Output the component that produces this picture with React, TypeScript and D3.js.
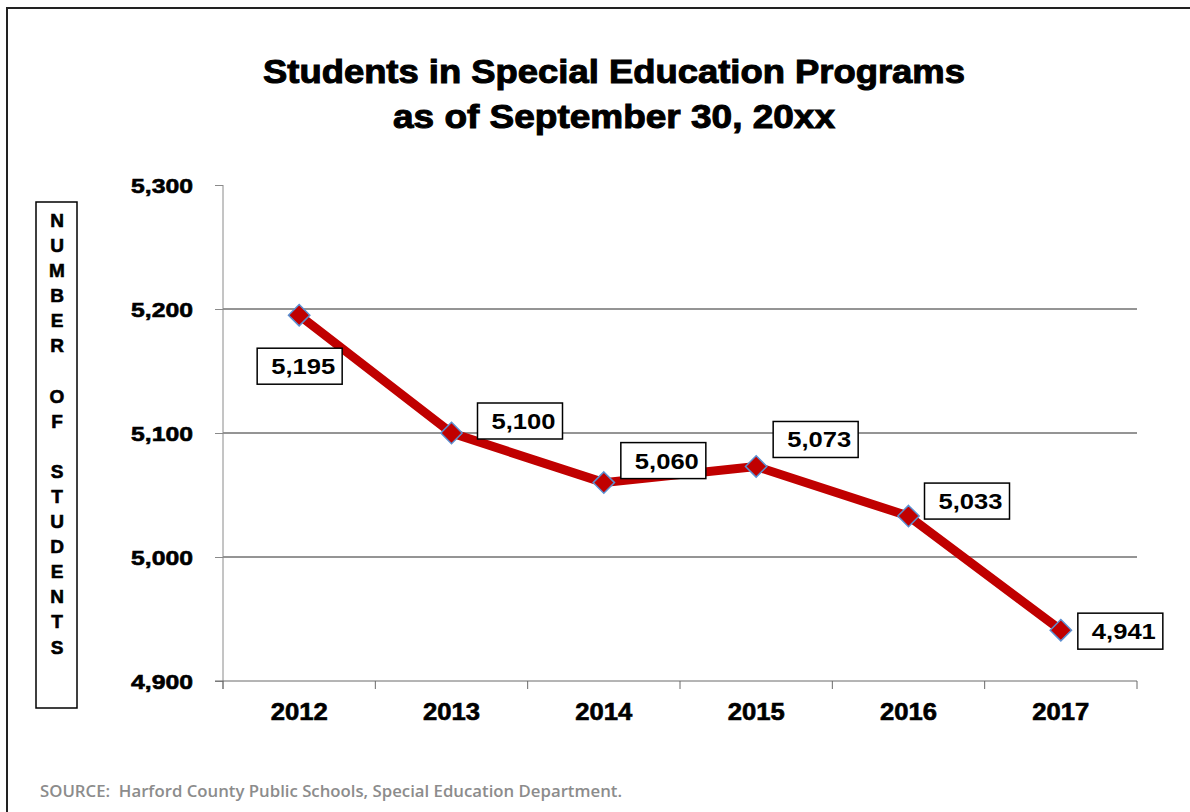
import * as d3 from 'd3';
import React, { useRef, useEffect } from 'react';

const years = ['2012', '2013', '2014', '2015', '2016', '2017'];
const students = [5195, 5100, 5060, 5073, 5033, 4941];
const yTicks = [4900, 5000, 5100, 5200, 5300];
// where each value box sits relative to its point: [dx of box left, dy of box centre]
const labelOffsets: [number, number][] = [
    [-42, 51],
    [26, -12],
    [17, -22],
    [17, -27],
    [16, -15],
    [17, 1],
];
const titleLines = ['Students in Special Education Programs', 'as of September 30, 20xx'];
const yLabel = 'NUMBER OF STUDENTS';
const source = 'SOURCE:  Harford County Public Schools, Special Education Department.';

const W = 1190;
const H = 812;

export default function App() {
    const ref = useRef<SVGSVGElement | null>(null);

    useEffect(() => {
        const svg = d3.select(ref.current);
        svg.selectAll('*').remove();

        const left = 223;
        const right = 1137;
        const top = 185;
        const bottom = 681;

        const x = d3.scaleBand().domain(years).range([left, right]);
        const y = d3.scaleLinear().domain([4900, 5300]).range([bottom, top]);
        const font = "'Liberation Sans', Arial, sans-serif";

        // outer frame (runs off the right and bottom edges)
        svg.append('rect')
            .attr('x', 7)
            .attr('y', 8)
            .attr('width', W + 20)
            .attr('height', H + 20)
            .attr('fill', 'white')
            .attr('stroke', '#222')
            .attr('stroke-width', 2);

        // title, widened to look like Arial Black
        svg.append('g')
            .selectAll('text')
            .data(titleLines)
            .join('text')
            .attr('x', 614)
            .attr('y', (d, i) => 83 + i * 45)
            .attr('text-anchor', 'middle')
            .attr('font-family', font)
            .attr('font-weight', 'bold')
            .attr('font-size', 33)
            .attr('textLength', (d, i) => (i === 0 ? 702 : 442))
            .attr('lengthAdjust', 'spacingAndGlyphs')
            .attr('fill', '#000')
            .attr('stroke', '#000')
            .attr('stroke-width', 1)
            .text((d) => d);

        // gridlines
        svg.append('g')
            .selectAll('line')
            .data(yTicks.filter((t) => t !== 4900 && t !== 5300))
            .join('line')
            .attr('x1', left)
            .attr('x2', right)
            .attr('y1', (d) => y(d))
            .attr('y2', (d) => y(d))
            .attr('stroke', '#2a2a2a')
            .attr('stroke-width', 1);

        // y axis
        const yAxis = svg.append('g')
            .attr('transform', `translate(${left},0)`)
            .call(d3.axisLeft(y).tickValues(yTicks).tickSize(8).tickSizeOuter(0).tickFormat(d3.format(',')));
        yAxis.select('.domain').attr('stroke', '#8a8a8a').attr('d', `M0,${top}V${bottom + 8}`);
        yAxis.selectAll('.tick line').attr('stroke', '#8a8a8a');
        yAxis.selectAll('.tick text')
            .attr('x', -30)
            .attr('dy', '0.36em')
            .attr('font-family', font)
            .attr('font-weight', 'bold')
            .attr('font-size', 21)
            .attr('textLength', 62)
            .attr('lengthAdjust', 'spacingAndGlyphs')
            .attr('stroke', '#000')
            .attr('stroke-width', 0.6)
            .attr('fill', '#000');

        // x axis
        const xAxis = svg.append('g').attr('transform', `translate(0,${bottom})`);
        xAxis.append('line')
            .attr('x1', left - 8)
            .attr('x2', right)
            .attr('stroke', '#6a6a6a');
        xAxis.selectAll('line.tk')
            .data(d3.range(years.length + 1))
            .join('line')
            .attr('class', 'tk')
            .attr('x1', (i) => left + i * x.bandwidth())
            .attr('x2', (i) => left + i * x.bandwidth())
            .attr('y1', 0)
            .attr('y2', 8)
            .attr('stroke', '#6a6a6a');
        xAxis.selectAll('text')
            .data(years)
            .join('text')
            .attr('x', (d) => x(d)! + x.bandwidth() / 2)
            .attr('y', 39)
            .attr('text-anchor', 'middle')
            .attr('font-family', font)
            .attr('font-weight', 'bold')
            .attr('font-size', 23)
            .attr('textLength', 57)
            .attr('lengthAdjust', 'spacingAndGlyphs')
            .attr('stroke', '#000')
            .attr('stroke-width', 0.6)
            .attr('fill', '#000')
            .text((d) => d);

        // line
        const pts = years.map((yr, i) => [x(yr)! + x.bandwidth() / 2, y(students[i])] as [number, number]);
        svg.append('path')
            .attr('d', d3.line()(pts))
            .attr('fill', 'none')
            .attr('stroke', '#C00000')
            .attr('stroke-width', 9)
            .attr('stroke-linejoin', 'round');

        // diamond markers
        const diamond = d3.symbol().type(d3.symbolDiamond2).size(290);
        svg.append('g')
            .selectAll('path')
            .data(pts)
            .join('path')
            .attr('transform', (d) => `translate(${d[0]},${d[1]})`)
            .attr('d', diamond as any)
            .attr('fill', '#C00000')
            .attr('stroke', '#5B8FD0')
            .attr('stroke-width', 1.5);

        // value boxes
        const boxW = 85;
        const boxH = 36;
        const labels = svg.append('g')
            .selectAll('g')
            .data(pts)
            .join('g')
            .attr('transform', (d, i) => `translate(${d[0] + labelOffsets[i][0]},${d[1] + labelOffsets[i][1] - boxH / 2})`);
        labels.append('rect')
            .attr('width', boxW)
            .attr('height', boxH)
            .attr('fill', 'white')
            .attr('stroke', '#000')
            .attr('stroke-width', 1.5);
        labels.append('text')
            .attr('x', boxW - 7)
            .attr('y', boxH / 2)
            .attr('dy', '0.36em')
            .attr('text-anchor', 'end')
            .attr('font-family', font)
            .attr('font-weight', 'bold')
            .attr('font-size', 22)
            .attr('textLength', 64)
            .attr('lengthAdjust', 'spacingAndGlyphs')
            .attr('fill', '#000')
            .text((d, i) => d3.format(',')(students[i]));

        // vertical y-axis title box
        svg.append('rect')
            .attr('x', 36)
            .attr('y', 202)
            .attr('width', 41)
            .attr('height', 506)
            .attr('fill', 'white')
            .attr('stroke', '#000')
            .attr('stroke-width', 1.5);
        svg.append('g')
            .selectAll('text')
            .data(yLabel.split(''))
            .join('text')
            .attr('x', 57)
            .attr('y', (d, i) => 220 + i * 25.1)
            .attr('dy', '0.36em')
            .attr('text-anchor', 'middle')
            .attr('font-family', font)
            .attr('font-weight', 'bold')
            .attr('font-size', 19)
            .attr('stroke', '#000')
            .attr('stroke-width', 0.6)
            .attr('fill', '#000')
            .text((d) => d);

        // source note
        svg.append('text')
            .attr('x', 40)
            .attr('y', 797)
            .attr('font-family', "'Open Sans', sans-serif")
            .attr('font-weight', 600)
            .attr('font-size', 16.5)
            .attr('textLength', 582)
            .attr('lengthAdjust', 'spacingAndGlyphs')
            .attr('fill', '#8c8c8c')
            .style('white-space', 'pre')
            .text(source);
    }, []);

    return (
        <div style={{ position: 'absolute', left: 0, top: 0 }}>
            <svg ref={ref} width={W} height={H} style={{ display: 'block' }} />
        </div>
    );
}
